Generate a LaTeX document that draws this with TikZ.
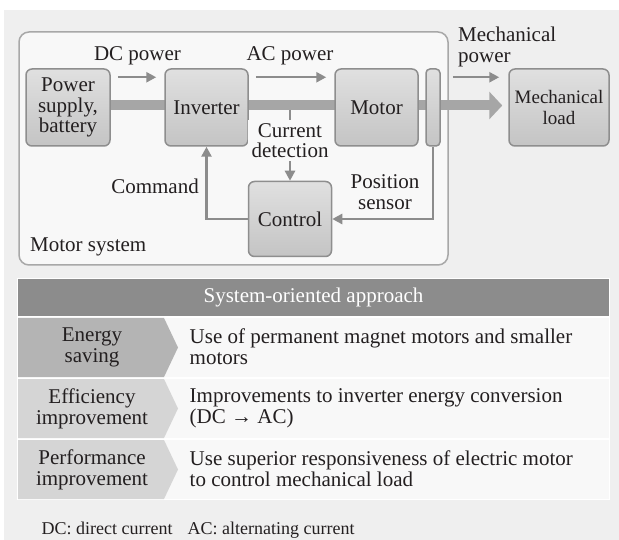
\documentclass[tikz,border=0pt]{standalone}
\usepackage{fontspec}
\setmainfont{Liberation Serif}
\usetikzlibrary{arrows.meta}
\pgfdeclarelayer{back}
\pgfdeclarelayer{bg}
\pgfsetlayers{back,bg,main}
\definecolor{pagebg}{HTML}{EFEFEF}
\definecolor{sysfill}{HTML}{F8F8F8}
\definecolor{sysborder}{HTML}{A8A8A8}
\definecolor{boxborder}{HTML}{8E8E8E}
\definecolor{boxtop}{HTML}{E0E0E0}
\definecolor{boxbot}{HTML}{C4C4C4}
\definecolor{barc}{HTML}{A6A6A6}
\definecolor{arrc}{HTML}{8C8C8C}
\definecolor{txt}{HTML}{231F20}
\definecolor{headc}{HTML}{8C8C8C}
\definecolor{chevA}{HTML}{B4B4B4}
\definecolor{chevB}{HTML}{D5D5D5}
\definecolor{cellc}{HTML}{F8F8F8}
\begin{document}
\begin{tikzpicture}[x=1pt,y=-1pt,
  font=\fontsize{21}{20.5}\selectfont, text=txt,
  block/.style={draw=boxborder, line width=1.5pt, rounded corners=6pt,
    top color=boxtop, bottom color=boxbot, minimum width=#1,
    minimum height=77pt, inner sep=0pt, align=center},
  flow/.style={draw=arrc, line width=2.5pt, -{Triangle[length=10pt,width=10pt]}},
  lbl/.style={inner sep=0pt, align=center},
  lefttxt/.style={inner sep=0pt, align=center, font=\fontsize{21}{21}\selectfont},
  righttxt/.style={inner sep=0pt, align=left, anchor=west, font=\fontsize{21}{21}\selectfont}]
\useasboundingbox (0,0) rectangle (619,540);
\begin{pgfonlayer}{back}
\fill[pagebg] (4,10) rectangle (619,540);
% motor system container
\draw[draw=sysborder, fill=sysfill, line width=1.5pt, rounded corners=10pt] (19,32) rectangle (448,265);
\end{pgfonlayer}
% blocks
\node[block=84pt] (psu) at (68,107.5) {Power\\supply,\\battery};
\node[block=83pt] (inv) at (206.5,107.5) {Inverter};
\node[block=83pt] (motor) at (376.5,107.5) {Motor};
\node[block=14pt, rounded corners=4pt] (sensor) at (433,107.5) {};
\node[block=100pt, font=\fontsize{19}{21}\selectfont] (load) at (559,107.5) {Mechanical\\load};
\node[block=83pt, minimum height=75pt] (control) at (290,219) {Control};
% main power bar
\begin{pgfonlayer}{bg}
\draw[barc, line width=10pt, -{Triangle[length=13pt,width=27pt]}]
  ([yshift=2pt]psu.east) -- ([yshift=2pt,xshift=-6pt]load.west);
\end{pgfonlayer}
% thin flow arrows
\draw[flow] ([xshift=7pt,yshift=-9pt]psu.north east) -- ([xshift=-8pt,yshift=-9pt]inv.north west);
\draw[flow] ([xshift=7pt,yshift=-9pt]inv.north east) -- ([xshift=-8pt,yshift=-9pt]motor.north west);
\draw[flow] ([xshift=12pt,yshift=-9pt]sensor.north east) -- ([xshift=-9pt,yshift=-9pt]load.north west);
\node[lbl, anchor=base] (dcl) at (137.5,61) {DC power};
\node[lbl, anchor=base] (acl) at (290,61) {AC power};
\node[lbl, align=left, anchor=west] (mpl) at (458,47) {Mechanical\\power};
% current detection
\coordinate (cd) at (290,110);
\draw[flow] (cd) -- node[pos=0.43, fill=sysfill, inner sep=3.5pt, align=center] (cdl) {Current\\detection} (control.north);
% command
\draw[flow] (control.west) -| (inv.south);
\node[lbl, anchor=base] (cmdl) at (155,194) {Command};
% position sensor
\draw[flow] (sensor.south) |- (control.east);
\node[lbl] (psl) at (385,192) {Position\\sensor};
\node[lbl, anchor=base west] (msl) at (30,252) {Motor system};
% table
\fill[white] (17,278) rectangle (610,500);
\node[fill=headc, minimum width=591pt, minimum height=37pt, inner sep=0pt, text=white] (head) at (313.5,297.5) {System-oriented approach};
\fill[cellc] (18,318) rectangle (609,377);
\fill[cellc] (18,379) rectangle (609,438);
\fill[cellc] (18,440) rectangle (609,499);
\fill[chevA] (18,318) -- (164,318) -- (178,347.5) -- (164,377) -- (18,377) -- cycle;
\fill[chevB] (18,379) -- (164,379) -- (178,408.5) -- (164,438) -- (18,438) -- cycle;
\fill[chevB] (18,440) -- (164,440) -- (178,469.5) -- (164,499) -- (18,499) -- cycle;
\node[lefttxt] (l1) at (92,347.5) {Energy\\saving};
\node[lefttxt] (l2) at (92,408.5) {Efficiency\\improvement};
\node[lefttxt] (l3) at (92,469.5) {Performance\\improvement};
\node[righttxt] (r1) at (189.5,347) {Use of permanent magnet motors and smaller\\motors};
\node[righttxt] (r2) at (189.5,408) {Improvements to inverter energy conversion\\(DC → AC)};
\node[righttxt] (r3) at (189.5,469) {Use superior responsiveness of electric motor\\to control mechanical load};
% footnote
\node[lbl, anchor=base west, font=\fontsize{18}{18}\selectfont] (foot) at (41.5,534) {DC: direct current\hspace{15pt}AC: alternating current};
\end{tikzpicture}
\end{document}
